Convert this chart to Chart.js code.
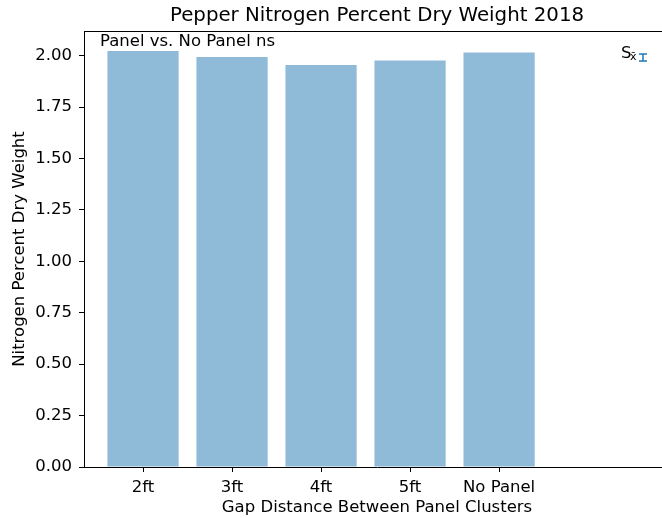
<!DOCTYPE html>
<html>
<head>
<meta charset="utf-8">
<script src="https://cdn.jsdelivr.net/npm/chart.js@4"></script>
<style>
  html, body { margin: 0; padding: 0; background: #fff; overflow: hidden; }
  #wrap { width: 672px; height: 518px; }
</style>
</head>
<body>
<div id="wrap"><canvas id="chartNitrogen" width="672" height="518"></canvas></div>
<script>
// Pepper nitrogen, % dry weight, 2018
const categories = ['2ft', '3ft', '4ft', '5ft', 'No Panel'];
const nitrogenPct = [2.023, 1.994, 1.955, 1.976, 2.016];
const yTicks = [0, 0.25, 0.5, 0.75, 1.0, 1.25, 1.5, 1.75, 2.0];
const chartTitle = 'Pepper Nitrogen Percent Dry Weight 2018';
const note = 'Panel vs. No Panel ns';

const FONT = '"DejaVu Sans", sans-serif';
const barColor = 'rgba(31,119,180,0.5)';

// frame, title, note and the S-xbar legend
const extras = {
    id: 'extras',
    afterDraw(chart) {
        const { ctx, chartArea: a } = chart;
        ctx.save();
        ctx.strokeStyle = '#000';
        ctx.lineWidth = 1;
        ctx.beginPath();
        ctx.moveTo(a.left, a.top + 0.5);
        ctx.lineTo(a.right, a.top + 0.5);
        ctx.moveTo(a.right - 0.5, a.top);
        ctx.lineTo(a.right - 0.5, a.bottom);
        ctx.stroke();

        ctx.fillStyle = '#000';
        ctx.textAlign = 'center';
        ctx.textBaseline = 'alphabetic';
        ctx.font = '19.8px ' + FONT;
        ctx.fillText(chartTitle, (a.left + a.right) / 2, 21);

        ctx.textAlign = 'left';
        ctx.font = '16.5px ' + FONT;
        ctx.fillText(note, a.left + 16, a.top + 15);

        // legend: S with x-bar subscript and a small error bar glyph
        ctx.fillText('S', a.right - 49, a.top + 27);
        ctx.font = '11px ' + FONT;
        ctx.fillText('x\u0304', a.right - 40, a.top + 29);
        ctx.strokeStyle = '#1f77b4';
        ctx.lineWidth = 1.5;
        const gx = a.right - 27;
        ctx.beginPath();
        ctx.moveTo(gx, a.top + 23); ctx.lineTo(gx, a.top + 30);
        ctx.moveTo(gx - 4, a.top + 23); ctx.lineTo(gx + 4, a.top + 23);
        ctx.moveTo(gx - 4, a.top + 30); ctx.lineTo(gx + 4, a.top + 30);
        ctx.stroke();
        ctx.restore();
    }
};

const ctx = document.getElementById('chartNitrogen').getContext('2d');
new Chart(ctx, {
    type: 'bar',
    data: {
        datasets: [{
            label: 'Nitrogen %',
            data: categories.map((c, i) => ({ x: i, y: nitrogenPct[i] })),
            backgroundColor: barColor,
            borderWidth: 0,
            barPercentage: 0.8,
            categoryPercentage: 1.0
        }]
    },
    options: {
        responsive: false,
        animation: false,
        layout: { padding: { top: 31, left: 8, right: 2, bottom: 0 } },
        plugins: { legend: { display: false }, tooltip: { enabled: false } },
        scales: {
            x: {
                type: 'linear',
                offset: false,
                min: -0.663,
                max: 5.92,
                grid: { display: true, drawOnChartArea: false, drawTicks: true, tickLength: 5, color: '#000', offset: false },
                border: { display: true, color: '#000', width: 1 },
                afterBuildTicks: s => { s.ticks = categories.map((c, i) => ({ value: i })); },
                ticks: {
                    autoSkip: false,
                    maxRotation: 0,
                    padding: 6,
                    color: '#000',
                    font: { family: FONT, size: 16.5 },
                    callback: v => categories[v]
                },
                title: {
                    display: true,
                    text: 'Gap Distance Between Panel Clusters',
                    color: '#000',
                    font: { family: FONT, size: 16.5 },
                    padding: { top: 2, bottom: 0 }
                },
                afterFit: s => { s.height = 51; }
            },
            y: {
                min: 0,
                max: 2.12,
                grid: { display: true, drawOnChartArea: false, drawTicks: true, tickLength: 5, color: '#000' },
                border: { display: true, color: '#000', width: 1 },
                afterBuildTicks: s => { s.ticks = yTicks.map(v => ({ value: v })); },
                ticks: {
                    padding: 7,
                    color: '#000',
                    font: { family: FONT, size: 16.5 },
                    callback: v => v.toFixed(2)
                },
                title: {
                    display: true,
                    text: 'Nitrogen Percent Dry Weight',
                    color: '#000',
                    font: { family: FONT, size: 16.5 },
                    padding: { top: 2, bottom: 4 }
                },
                afterFit: s => { s.width = 76; }
            }
        }
    },
    plugins: [extras]
});
</script>
</body>
</html>
